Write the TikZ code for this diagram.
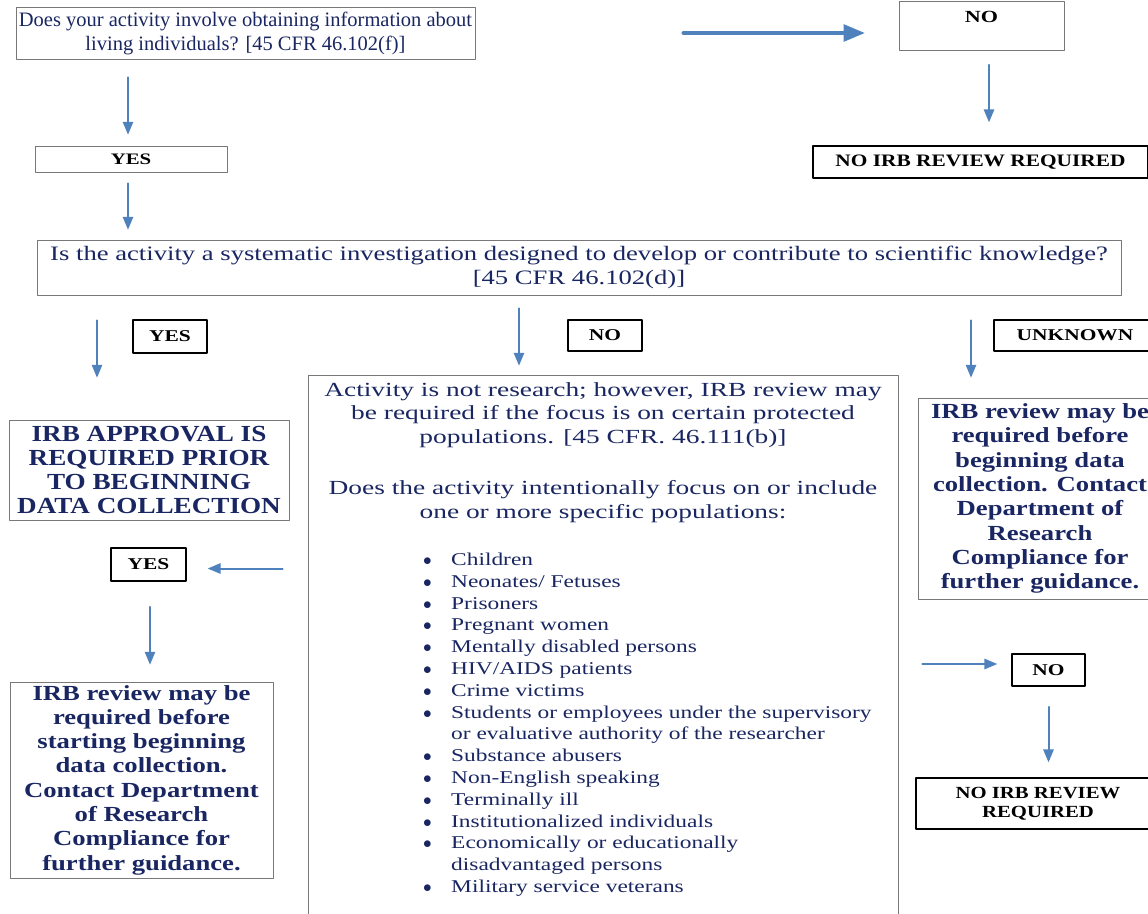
\documentclass[tikz,border=0pt]{standalone}
\usepackage{fontspec}
\setmainfont{Liberation Serif}
\usepackage{tikz}
\usetikzlibrary{arrows}
\definecolor{navytxt}{rgb}{0.1,0.15,0.38}
\definecolor{flowblue}{rgb}{0.31,0.51,0.74}
\definecolor{edgegray}{rgb}{0.47,0.47,0.47}
\newcommand\tf[3]{\fontsize{#1}{#2}\selectfont\addfontfeatures{FakeStretch=#3}}

\begin{document}
\begin{tikzpicture}[line cap=round,line join=round,>=triangle 45,x=1pt,y=-1pt,
    box/.style={draw=edgegray,line width=0.9pt,inner sep=0pt,align=center,text=navytxt},
    tag/.style={draw=black,line width=1.6pt,inner sep=0pt,align=center,font=\bfseries\tf{16.5}{18}{1.3}},
    flow/.style={draw=flowblue,line width=2pt,->}]
    \useasboundingbox (0,0) rectangle (1148,913);
    % top row
    \node[box,minimum width=459,minimum height=52,font=\tf{20.5}{24}{1}] (q1) at (245.5,33)
      {Does your activity involve obtaining information about\\living individuals? [45 CFR 46.102(f)]};
    \node[box,anchor=north,minimum width=165,text height=17,text depth=24,inner ysep=4,text=black,
      font=\bfseries\tf{17}{18}{1.3}] (no1) at (981.5,1) {NO};
    \node[tag,minimum width=335,minimum height=32,font=\bfseries\tf{17.5}{20}{1.22}] (noirb1) at (980.5,162) {NO IRB REVIEW REQUIRED};
    \node[box,minimum width=192,minimum height=26,text=black,font=\bfseries\tf{16}{17}{1.3}] (yes1) at (131,159) {YES};
    % second question
    \node[box,minimum width=1084,minimum height=55,font=\tf{20.5}{24}{1.3}] (q2) at (579,267.5)
      {Is the activity a systematic investigation designed to develop or contribute to scientific knowledge?\\\relax[45 CFR 46.102(d)]};
    \node[tag,minimum width=74,minimum height=33] (yes2) at (170,336.5) {YES};
    \node[tag,minimum width=74,minimum height=31] (no2) at (605,335.5) {NO};
    \node[tag,minimum width=162,minimum height=31] (unk) at (1075,335.5) {UNKNOWN};
    % outcomes
    \node[box,minimum width=280,minimum height=100,font=\bfseries\tf{23}{24}{1.18}] (apprv) at (149,470)
      {IRB APPROVAL IS\\REQUIRED PRIOR\\TO BEGINNING\\DATA COLLECTION};
    \node[box,minimum width=244,minimum height=201,font=\bfseries\tf{21.5}{24.3}{1.24}] (rrev) at (1040,498.5)
      {IRB review may be\\required before\\beginning data\\collection. Contact\\Department of\\Research\\Compliance for\\further guidance.};
    \node[box,minimum width=590,minimum height=565] (mid) at (603,657.5) {};
    \node[anchor=north,inner sep=0pt,align=center,text=navytxt,font=\tf{20}{23.5}{1.37}] (midtop) at (603,382)
      {Activity is not research; however, IRB review may\\be required if the focus is on certain protected\\populations. [45 CFR. 46.111(b)]\\[28pt]
       Does the activity intentionally focus on or include\\one or more specific populations:};
    \node[anchor=north west,inner sep=0pt,text=navytxt,font=\tf{18}{21.8}{1.3}] (midlist) at (423,550)
      {\begin{tabular}{@{}p{28pt}@{}l@{}}
        $\bullet$ & Children\\
        $\bullet$ & Neonates/ Fetuses\\
        $\bullet$ & Prisoners\\
        $\bullet$ & Pregnant women\\
        $\bullet$ & Mentally disabled persons\\
        $\bullet$ & HIV/AIDS patients\\
        $\bullet$ & Crime victims\\
        $\bullet$ & Students or employees under the supervisory\\
                  & or evaluative authority of the researcher\\
        $\bullet$ & Substance abusers\\
        $\bullet$ & Non-English speaking\\
        $\bullet$ & Terminally ill\\
        $\bullet$ & Institutionalized individuals\\
        $\bullet$ & Economically or educationally\\
                  & disadvantaged persons\\
        $\bullet$ & Military service veterans
      \end{tabular}};
    \node[tag,minimum width=75,minimum height=33] (yes3) at (148.5,564.5) {YES};
    \node[box,minimum width=263,minimum height=196,font=\bfseries\tf{21.5}{24.3}{1.24}] (lrev) at (141.5,780)
      {IRB review may be\\required before\\starting beginning\\data collection.\\Contact Department\\of Research\\Compliance for\\further guidance.};
    \node[tag,minimum width=73,minimum height=32] (no3) at (1048.5,670) {NO};
    \node[tag,minimum width=244,minimum height=51,font=\bfseries\tf{17}{19}{1.22}] (noirb2) at (1038,803.5) {NO IRB REVIEW\\REQUIRED};
    % connectors
    \draw[flow,line width=4pt,shorten <=208pt,shorten >=34pt] (q1.east) -- (q1.east -| no1.west);
    \draw[flow,shorten <=14pt,shorten >=23pt] ([xshift=7.5pt]no1.south) -- ([xshift=7.5pt]no1.south |- noirb1.north);
    \draw[flow,shorten <=18pt,shorten >=11pt] ([xshift=-3pt]yes1.north |- q1.south) -- ([xshift=-3pt]yes1.north);
    \draw[flow,shorten <=11pt,shorten >=10pt] ([xshift=-3pt]yes1.south) -- ([xshift=-3pt]yes1.south |- q2.north);
    \draw[flow,shorten <=25pt,shorten >=42pt] ([xshift=-52pt]apprv.north |- q2.south) -- ([xshift=-52pt]apprv.north);
    \draw[flow,shorten <=13pt,shorten >=9pt] ([xshift=-84pt]mid.north |- q2.south) -- ([xshift=-84pt]mid.north);
    \draw[flow,shorten <=25pt,shorten >=20pt] ([xshift=-69pt]rrev.north |- q2.south) -- ([xshift=-69pt]rrev.north);
    \draw[flow,shorten <=25pt,shorten >=21pt] ([yshift=-4pt]yes3.east -| mid.west) -- ([yshift=-4pt]yes3.east);
    \draw[flow,shorten <=25pt,shorten >=17pt] ([xshift=1.5pt]yes3.south) -- ([xshift=1.5pt]yes3.south |- lrev.north);
    \draw[flow,shorten <=24pt,shorten >=14pt] ([yshift=6pt]no3.west -| mid.east) -- ([yshift=6pt]no3.west);
    \draw[flow,shorten <=20pt,shorten >=15pt] (no3.south) -- (no3.south |- noirb2.north);
\end{tikzpicture}
\end{document}
